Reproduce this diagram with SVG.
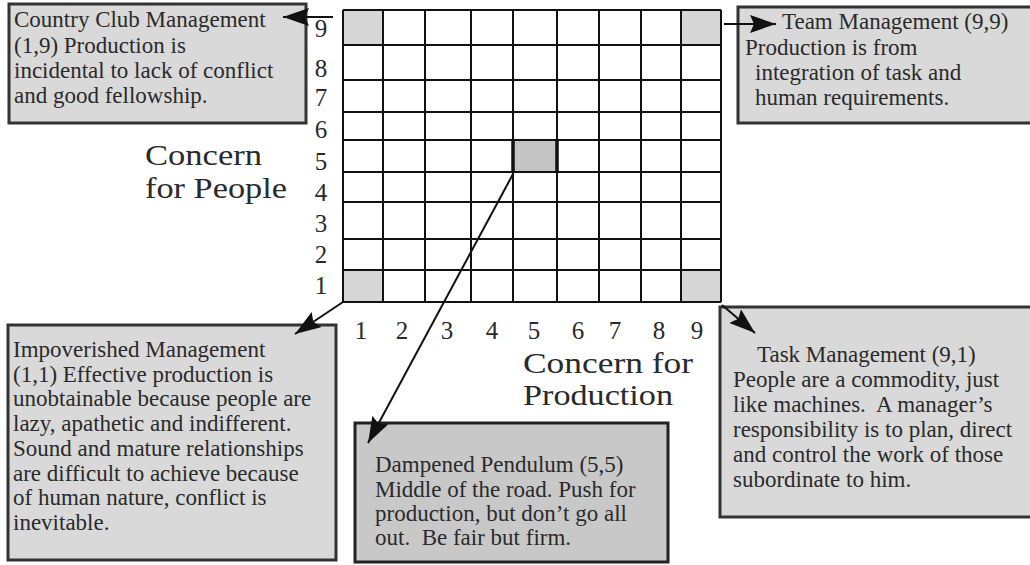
<svg xmlns="http://www.w3.org/2000/svg" width="1030" height="565" viewBox="0 0 1030 565">
<style>
.box{fill:#d9d9d9;stroke:#333;stroke-width:3}
.boxd{fill:#c8c8c8;stroke:#222;stroke-width:3}
.t{font-family:"Liberation Serif","Times New Roman",serif;font-size:23px;fill:#2a2a2a;white-space:pre}
.ax{font-family:"Liberation Serif","Times New Roman",serif;font-size:25px;fill:#2a2a2a;text-anchor:middle}
.big{font-family:"Liberation Serif","Times New Roman",serif;font-size:30px;fill:#2a2a2a}
.g{stroke:#111;stroke-width:2;fill:none}
.c{stroke:#111;stroke-width:2;fill:none}
</style>
<defs>
<marker id="ah" markerUnits="userSpaceOnUse" markerWidth="28" markerHeight="20" refX="26" refY="9" orient="auto">
<path d="M0,0 L26,9 L0,18 L4,9 Z" fill="#111"/>
</marker>
</defs>
<rect width="1030" height="565" fill="#fff"/>
<g id="grid">
<rect x="343" y="10" width="40" height="35" fill="#d6d6d6"/>
<rect x="681" y="10" width="40" height="35" fill="#d6d6d6"/>
<rect x="343" y="270" width="40" height="32" fill="#d6d6d6"/>
<rect x="681" y="270" width="40" height="32" fill="#d6d6d6"/>
<rect x="513" y="140" width="44" height="32" fill="#c4c4c4"/>
<path class="g" d="M343,10V302M383,10V302M425,10V302M471,10V302M513,10V302M557,10V302M599,10V302M641,10V302M681,10V302M721,10V302"/>
<path class="g" d="M343,10H721M343,45H721M343,80H721M343,112H721M343,140H721M343,172H721M343,202H721M343,239H721M343,270H721M343,302H721"/>
<path d="M513,140V172M557,140V172" stroke="#111" stroke-width="3.5"/>
<text class="ax" x="321" y="37">9</text>
<text class="ax" x="321" y="77">8</text>
<text class="ax" x="321" y="106">7</text>
<text class="ax" x="321" y="138">6</text>
<text class="ax" x="321" y="170">5</text>
<text class="ax" x="321" y="201">4</text>
<text class="ax" x="321" y="232">3</text>
<text class="ax" x="321" y="263">2</text>
<text class="ax" x="321" y="294">1</text>
<text class="ax" x="361" y="339">1</text>
<text class="ax" x="402" y="339">2</text>
<text class="ax" x="447" y="339">3</text>
<text class="ax" x="492" y="339">4</text>
<text class="ax" x="534" y="339">5</text>
<text class="ax" x="578" y="339">6</text>
<text class="ax" x="615" y="339">7</text>
<text class="ax" x="659" y="339">8</text>
<text class="ax" x="697" y="339">9</text>
<text class="big" x="145" y="165" textLength="117" lengthAdjust="spacingAndGlyphs">Concern</text>
<text class="big" x="145" y="198" textLength="142" lengthAdjust="spacingAndGlyphs">for People</text>
<text class="big" x="523" y="373" textLength="170" lengthAdjust="spacingAndGlyphs">Concern for</text>
<text class="big" x="523" y="405" textLength="150" lengthAdjust="spacingAndGlyphs">Production</text>
</g>
<g id="country-club">
<rect class="box" x="9" y="4" width="297" height="119"/>
<text class="t" x="14" y="27">Country Club Management</text>
<text class="t" x="14" y="53">(1,9) Production is</text>
<text class="t" x="14" y="78">incidental to lack of conflict</text>
<text class="t" x="14" y="103">and good fellowship.</text>
</g>
<g id="team">
<rect class="box" x="738" y="7" width="300" height="116"/>
<text class="t" x="782" y="29">Team Management (9,9)</text>
<text class="t" x="745" y="55">Production is from</text>
<text class="t" x="755" y="80">integration of task and</text>
<text class="t" x="755" y="105">human requirements.</text>
</g>
<g id="impoverished">
<rect class="box" x="8" y="325" width="328" height="235"/>
<text class="t" x="13" y="357">Impoverished Management</text>
<text class="t" x="13" y="382">(1,1) Effective production is</text>
<text class="t" x="13" y="406">unobtainable because people are</text>
<text class="t" x="13" y="431">lazy, apathetic and indifferent.</text>
<text class="t" x="13" y="456">Sound and mature relationships</text>
<text class="t" x="13" y="481">are difficult to achieve because</text>
<text class="t" x="13" y="505">of human nature, conflict is</text>
<text class="t" x="13" y="530">inevitable.</text>
</g>
<g id="dampened">
<rect class="boxd" x="355" y="423" width="313" height="139"/>
<text class="t" x="375" y="472">Dampened Pendulum (5,5)</text>
<text class="t" x="375" y="497">Middle of the road. Push for</text>
<text class="t" x="375" y="521">production, but don’t go all</text>
<text class="t" x="375" y="545">out.  Be fair but firm.</text>
</g>
<g id="task">
<rect class="box" x="720" y="307" width="320" height="210"/>
<text class="t" x="757" y="362">Task Management (9,1)</text>
<text class="t" x="733" y="387">People are a commodity, just</text>
<text class="t" x="733" y="412">like machines.  A manager’s</text>
<text class="t" x="733" y="437">responsibility is to plan, direct</text>
<text class="t" x="733" y="462">and control the work of those</text>
<text class="t" x="733" y="487">subordinate to him.</text>
</g>
<g id="connectors">
<line class="c" x1="333" y1="17" x2="283" y2="17" marker-end="url(#ah)"/>
<line class="c" x1="724" y1="24" x2="776" y2="24" marker-end="url(#ah)"/>
<line class="c" x1="513" y1="174" x2="368" y2="443" marker-end="url(#ah)"/>
<line class="c" x1="343" y1="302" x2="295" y2="334" marker-end="url(#ah)"/>
<line class="c" x1="722" y1="305" x2="755" y2="333" marker-end="url(#ah)"/>
</g>
</svg>
